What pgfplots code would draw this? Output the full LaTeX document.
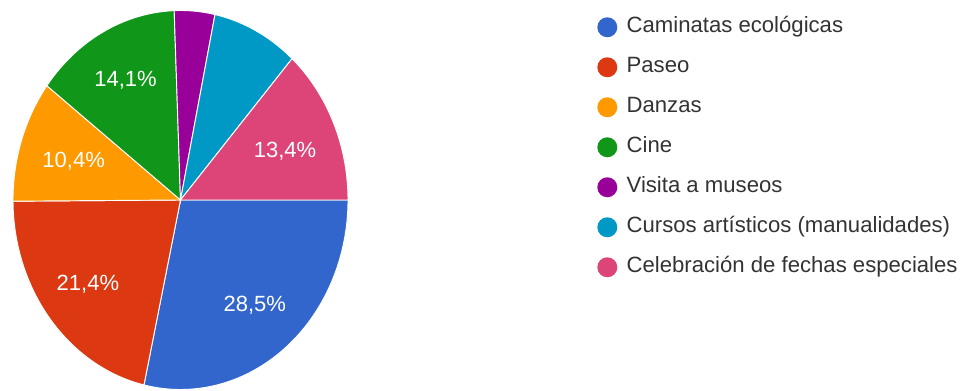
\documentclass[border=0pt]{standalone}
\usepackage{pgfplots}
\pgfplotsset{compat=1.18}
\usepackage{pgfplotstable}
\usepackage{fontspec}
\setmainfont{Liberation Sans}
\definecolor{cBlue}{HTML}{3366CC}
\definecolor{cRed}{HTML}{DC3912}
\definecolor{cOrange}{HTML}{FF9900}
\definecolor{cGreen}{HTML}{109618}
\definecolor{cPurple}{HTML}{990099}
\definecolor{cCyan}{HTML}{0099C6}
\definecolor{cPink}{HTML}{DD4477}
\definecolor{legtext}{HTML}{333333}

\pgfplotstableread{
idx pct
0 28.5
1 21.4
2 10.4
3 14.1
4 3.9
5 8.3
6 13.4
}\piedata

\def\cx{180.5}\def\cy{200}\def\rx{167.5}\def\ry{189.5}
\pgfmathsetmacro\angA{0}
\pgfplotstablegetelem{0}{pct}\of\piedata\let\pctA\pgfplotsretval
\pgfmathsetmacro\angB{\angA-3.6*\pctA}
\pgfplotstablegetelem{1}{pct}\of\piedata\let\pctB\pgfplotsretval
\pgfmathsetmacro\angC{\angB-3.6*\pctB}
\pgfplotstablegetelem{2}{pct}\of\piedata\let\pctC\pgfplotsretval
\pgfmathsetmacro\angD{\angC-3.6*\pctC}
\pgfplotstablegetelem{3}{pct}\of\piedata\let\pctD\pgfplotsretval
\pgfmathsetmacro\angE{\angD-3.6*\pctD}
\pgfplotstablegetelem{4}{pct}\of\piedata\let\pctE\pgfplotsretval
\pgfmathsetmacro\angF{\angE-3.6*\pctE}
\pgfplotstablegetelem{5}{pct}\of\piedata\let\pctF\pgfplotsretval
\pgfmathsetmacro\angG{\angF-3.6*\pctF}
\pgfplotstablegetelem{6}{pct}\of\piedata\let\pctG\pgfplotsretval
\pgfmathsetmacro\angH{\angG-3.6*\pctG}
\pgfmathsetmacro\midA{(\angA+\angB)/2}
\pgfmathsetmacro\midB{(\angB+\angC)/2}
\pgfmathsetmacro\midC{(\angC+\angD)/2}
\pgfmathsetmacro\midD{(\angD+\angE)/2}
\pgfmathsetmacro\midG{(\angG+\angH)/2}
\newcommand\lab[1]{\pgfmathprintnumber[fixed,precision=1,fixed zerofill,use comma,assume math mode=true]{#1}\%}

\begin{document}
\begin{tikzpicture}
\begin{axis}[
  width=726.75pt, height=293.25pt, scale only axis,
  xmin=0, xmax=969, ymin=0, ymax=391, y dir=reverse,
  hide axis, clip=false,
  legend image code/.code={\fill[#1,draw=none] (0pt,0pt) circle (7.5pt);},
  legend cell align=left,
  legend style={draw=none, fill=none, at={(0.6120,0.9642)}, anchor=north west,
    font=\fontsize{16.6}{18}\selectfont\color{legtext},
    nodes={inner sep=0pt, text height=12pt, text depth=3.5pt},
    column sep=7pt, row sep=14.5pt},
  pie/.style={draw=white, line width=0.7pt, samples=90, variable=\t},
]
\path (rel axis cs:0,0) rectangle (rel axis cs:1,1);
\addplot[pie, fill=cBlue, domain=\angB:\angA] ({\cx+\rx*cos(\t)},{\cy-\ry*sin(\t)}) -- (axis cs:\cx,\cy) -- cycle;
\addlegendentry{Caminatas ecológicas}
\addplot[pie, fill=cRed, domain=\angC:\angB] ({\cx+\rx*cos(\t)},{\cy-\ry*sin(\t)}) -- (axis cs:\cx,\cy) -- cycle;
\addlegendentry{Paseo}
\addplot[pie, fill=cOrange, domain=\angD:\angC] ({\cx+\rx*cos(\t)},{\cy-\ry*sin(\t)}) -- (axis cs:\cx,\cy) -- cycle;
\addlegendentry{Danzas}
\addplot[pie, fill=cGreen, domain=\angE:\angD] ({\cx+\rx*cos(\t)},{\cy-\ry*sin(\t)}) -- (axis cs:\cx,\cy) -- cycle;
\addlegendentry{Cine}
\addplot[pie, fill=cPurple, domain=\angF:\angE] ({\cx+\rx*cos(\t)},{\cy-\ry*sin(\t)}) -- (axis cs:\cx,\cy) -- cycle;
\addlegendentry{Visita a museos}
\addplot[pie, fill=cCyan, domain=\angG:\angF] ({\cx+\rx*cos(\t)},{\cy-\ry*sin(\t)}) -- (axis cs:\cx,\cy) -- cycle;
\addlegendentry{Cursos artísticos (manualidades)}
\addplot[pie, fill=cPink, domain=\angH:\angG] ({\cx+\rx*cos(\t)},{\cy-\ry*sin(\t)}) -- (axis cs:\cx,\cy) -- cycle;
\addlegendentry{Celebración de fechas especiales}
\begin{scope}[every node/.style={text=white, font=\fontsize{16.5}{18}\selectfont}]
\node at (axis cs:{\cx+0.71*\rx*cos(\midA)},{\cy-0.71*\ry*sin(\midA)}) {\lab{\pctA}};
\node at (axis cs:{\cx+0.71*\rx*cos(\midB)},{\cy-0.71*\ry*sin(\midB)}) {\lab{\pctB}};
\node at (axis cs:{\cx+0.71*\rx*cos(\midC)+6},{\cy-0.71*\ry*sin(\midC)+4}) {\lab{\pctC}};
\node at (axis cs:{\cx+0.71*\rx*cos(\midD)},{\cy-0.71*\ry*sin(\midD)}) {\lab{\pctD}};
\node at (axis cs:{\cx+0.71*\rx*cos(\midG)-4},{\cy-0.71*\ry*sin(\midG)+6}) {\lab{\pctG}};
\end{scope}
\end{axis}
\end{tikzpicture}
\end{document}
